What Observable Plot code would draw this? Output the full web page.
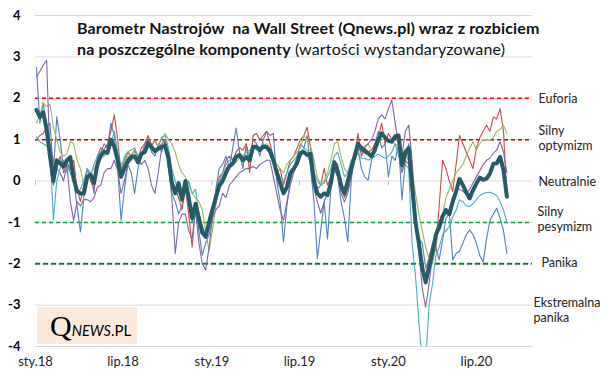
<!DOCTYPE html>
<html><head><meta charset="utf-8">
<script src="https://cdn.jsdelivr.net/npm/d3@7"></script>
<script src="https://cdn.jsdelivr.net/npm/@observablehq/plot@0.6"></script>
<style>
body{margin:0;background:#fff;}
#wrap{position:relative;width:605px;height:380px;font-family:Lato,sans-serif;color:#000;}
#title{position:absolute;left:77px;top:17px;font-size:16px;letter-spacing:0.15px;line-height:21px;color:#111;white-space:nowrap;}
#title b{font-weight:700;}
#logo{position:absolute;left:37px;top:307px;width:87px;height:37px;padding-left:13px;background:#FCE9DA;white-space:nowrap;line-height:37px;}
#logo .q{font-family:"Liberation Serif",serif;font-size:30px;}
#logo .n{font-size:14.5px;font-style:italic;}
#logo .p{font-size:15px;}
</style></head>
<body><div id="wrap"><div id="chart"></div>
<div id="title"><b>Barometr Nastrojów&nbsp; na Wall Street (Qnews.pl) wraz z rozbiciem</b><br><b>na poszczególne komponenty</b> (wartości wystandaryzowane)</div>
<div id="logo"><span class="q">Q</span><span class="n">NEWS</span><span class="p">.PL</span></div>
</div>
<script>
const barometr = [
1.72,1.55,1.66,1.25,0.6,0.0,0.5,0.43,0.35,0.5,
0.58,0.05,-0.25,-0.3,-0.3,0.1,0.15,-0.05,0.4,0.62,
0.7,0.68,1.0,0.83,0.5,0.1,0.3,0.5,0.58,0.6,
0.45,0.65,0.7,0.92,0.82,0.72,0.78,0.82,0.86,0.55,
-0.05,-0.3,-0.05,-0.45,0.0,-0.4,-0.9,-0.55,-0.9,-1.25,
-1.35,-1.0,-0.7,-0.4,-0.12,0.0,0.2,0.36,0.42,0.58,
0.63,0.5,0.58,0.5,0.83,0.83,0.75,0.83,0.82,0.72,
0.5,0.2,-0.05,-0.3,-0.15,0.19,0.3,0.43,0.68,0.7,
0.63,0.66,0.0,-0.3,-0.38,-0.3,-0.34,-0.05,0.45,0.25,
-0.1,-0.3,0.0,0.3,0.6,0.9,0.8,0.72,0.67,0.6,
0.75,1.0,1.15,1.05,0.97,0.95,1.08,1.1,0.38,0.7,
0.8,-0.1,-1.0,-1.5,-2.1,-2.45,-2.1,-1.74,-1.3,-1.12,
-0.85,-0.7,-0.8,-0.5,-0.25,0.05,-0.1,-0.28,-0.42,-0.22,
-0.06,0.08,0.03,0.06,0.18,0.42,0.43,0.58,0.27,-0.38];
const komponentCzerwony = [
1.0,1.1,1.15,1.3,0.9,0.5,0.3,0.6,0.2,0.4,
0.3,0.5,-0.2,-0.5,-0.1,0.3,0.0,-0.2,0.6,0.8,
0.75,0.9,1.2,1.6,1.0,0.2,0.5,0.7,0.6,0.75,
0.55,0.8,0.9,1.1,0.85,1.0,0.8,0.9,1.0,0.6,
0.1,-0.2,-0.4,-0.7,-0.2,-0.8,-1.6,-0.6,-0.9,-1.1,
-1.3,-0.9,-0.6,-0.3,0.1,0.2,0.5,0.6,0.5,0.7,
0.8,0.75,0.9,0.2,1.1,1.15,1.0,1.1,1.2,0.9,
0.6,0.2,0.3,-0.1,0.2,0.5,0.6,0.8,1.0,1.1,
1.3,0.8,0.1,-0.2,-0.1,0.3,-0.1,0.1,0.5,0.4,
-0.1,-0.4,-0.2,0.2,0.6,1.15,0.6,0.8,0.7,0.75,
0.9,1.05,1.4,0.9,1.15,1.0,1.1,0.9,0.2,0.5,
0.4,-0.4,-1.0,-1.7,-2.0,-2.3,-1.8,-1.6,-1.7,-0.6,
0.5,0.3,0.0,-0.25,0.4,1.1,0.9,0.7,0.5,0.3,
0.8,1.05,1.2,1.35,1.2,1.55,1.5,1.75,1.2,-0.4];
const komponentZielony = [
1.4,1.6,1.9,1.8,1.85,1.3,1.0,0.7,0.6,0.65,
0.95,0.9,0.5,0.3,-0.1,0.0,0.2,0.3,0.4,0.55,
0.6,0.7,0.85,0.9,0.6,0.4,0.5,0.6,0.65,0.7,
0.6,0.65,0.7,0.85,0.9,0.95,0.85,1.0,1.15,1.0,
0.9,0.7,0.4,0.2,0.1,-0.1,-0.3,-0.4,-0.5,-0.7,
-1.2,-1.7,-1.2,-0.6,0.0,0.2,0.3,0.35,0.4,0.45,
0.55,0.5,0.6,0.65,0.8,0.75,0.8,0.85,0.9,0.8,
0.6,0.4,0.3,0.2,0.4,0.5,0.6,0.7,0.8,1.1,
1.0,0.85,0.5,0.1,-0.1,0.0,0.2,0.5,0.9,0.95,
0.6,0.3,0.2,0.4,0.5,0.7,0.8,0.85,0.9,0.75,
0.8,0.9,1.0,1.05,1.0,0.95,0.9,0.85,0.7,0.6,
0.5,0.2,-0.3,-0.8,-1.2,-1.6,-1.9,-2.0,-1.6,-1.0,
-0.8,-0.4,-0.2,0.0,0.2,0.3,0.4,0.6,0.8,0.95,
0.75,0.9,1.0,1.0,0.98,1.05,1.2,1.25,1.35,1.15];
const komponentFioletowy = [
2.5,2.65,2.8,2.92,0.5,-0.1,0.3,0.2,0.0,0.4,
-0.5,-0.95,-0.5,-0.6,-0.45,-0.45,-0.5,-0.4,-0.15,-0.1,
0.2,0.3,0.3,0.5,0.25,-0.3,0.0,0.4,0.5,0.6,
0.5,0.4,0.5,0.3,-0.1,-0.3,0.2,0.8,0.9,0.5,
-0.4,-1.75,-1.0,-0.8,-0.8,-1.2,-1.4,-0.7,-1.5,-2.0,
-2.15,-1.6,-0.9,-0.7,-0.6,-0.3,-0.4,-0.1,0.0,0.1,
0.2,0.25,0.3,0.3,0.35,0.3,0.4,0.45,0.5,0.5,
0.1,-0.3,-0.7,-0.95,-0.5,-0.1,0.2,0.4,0.6,0.7,
0.65,0.4,-0.2,-0.5,-0.78,-0.5,-0.3,0.1,0.3,0.1,
-0.3,-0.5,-0.3,0.1,0.5,0.8,0.7,0.8,0.9,1.0,
1.2,1.5,1.6,1.5,1.75,1.95,1.4,0.9,0.6,1.2,
1.35,0.5,-0.8,-1.7,-2.6,-3.05,-2.5,-1.8,-1.2,-1.0,
-0.85,-0.8,-0.7,-0.4,-0.2,-0.2,-0.25,-0.3,-0.2,-0.05,
0.1,0.25,0.4,0.5,0.55,0.67,0.75,0.95,0.7,0.2];
const komponentNiebieski = [
2.75,1.4,1.9,1.3,1.4,0.2,1.55,1.0,0.3,0.5,
0.2,0.0,-0.6,-1.23,-0.4,0.3,0.2,-0.3,0.5,0.7,
0.9,0.8,1.4,1.1,0.3,-0.95,-0.2,0.4,0.2,-0.3,
0.3,0.6,0.9,1.0,0.7,0.6,0.9,0.7,1.0,0.3,
-0.3,-0.5,-0.8,-0.6,0.0,-0.5,-1.0,-0.6,-1.2,-1.8,
-1.5,-1.3,-0.9,-0.2,0.3,0.4,0.6,0.3,0.8,1.28,
0.7,0.3,0.9,0.5,1.0,0.9,0.6,1.0,1.2,1.1,
1.15,0.0,-0.5,-1.47,-0.6,0.0,0.3,0.6,0.9,0.8,
1.1,0.3,-0.5,-1.87,-1.2,-0.5,-1.4,-0.2,0.3,0.1,
-0.5,-0.9,-1.47,0.0,0.7,0.8,0.3,0.1,0.02,0.5,
0.9,1.2,0.8,0.9,0.1,0.6,0.5,0.9,-0.46,0.5,
0.9,-0.3,-1.0,-1.4,-1.5,-2.1,-1.9,-1.5,-1.6,-1.9,
-1.43,-0.9,-0.78,-1.9,-1.75,-1.7,-1.5,-1.3,-1.18,-1.3,
-1.5,-1.8,-1.96,-1.4,-0.95,-0.8,-0.66,-0.9,-1.2,-1.75];
const komponentTurkusowy = [
1.07,0.95,0.9,0.85,0.8,-0.94,0.0,0.3,0.5,0.2,
0.4,0.3,-0.3,-0.2,0.0,0.3,0.1,0.4,0.6,0.7,
0.75,0.7,0.9,1.2,0.7,0.3,0.6,0.7,0.75,0.8,
0.6,0.7,0.8,0.8,0.9,0.7,0.85,1.05,1.1,0.8,
0.3,0.0,-0.3,-0.4,-0.2,0.0,-0.3,-0.2,-0.8,-1.1,
-1.25,-0.9,-0.7,-0.3,0.0,0.2,0.4,0.5,0.55,0.6,
0.65,0.6,0.7,0.75,0.8,0.85,0.8,0.9,0.85,0.8,
0.6,0.3,0.1,0.0,0.2,0.4,0.5,0.6,0.7,0.8,
0.75,0.6,0.2,0.0,-0.1,-0.05,0.1,0.3,0.6,0.7,
0.4,0.1,0.2,0.5,0.6,0.65,0.55,0.55,0.5,0.55,
0.6,0.65,0.6,0.55,0.6,0.7,0.9,0.6,0.3,0.4,
0.3,-1.5,-2.3,-3.4,-4.4,-4.4,-3.0,-2.5,-1.8,-1.6,
-1.3,-1.2,-1.1,-0.87,-0.7,-0.46,-0.5,-0.6,-0.62,-0.55,
-0.45,-0.35,-0.3,-0.28,-0.27,-0.3,-0.35,-0.5,-0.7,-1.0];

const startDate = Date.UTC(2018, 0, 3);
const dates = barometr.map((_, i) => new Date(startDate + i * 7 * 864e5));

const xTickDates = [Date.UTC(2018,0,1), Date.UTC(2018,6,1), Date.UTC(2019,0,1), Date.UTC(2019,6,1), Date.UTC(2020,0,1), Date.UTC(2020,6,1)].map(d => new Date(d));
const xTickLabels = ["sty.18", "lip.18", "sty.19", "lip.19", "sty.20", "lip.20"];
const yTicks = [4, 3, 2, 1, 0, -1, -2, -3, -4];
const yTickLabels = ["4", "3", "2", "1", "0", "-1", "-2", "-3", "-4"];

const levels = [2, 1, -1, -2];
const levelColors = ["#FF0000", "#C00000", "#00A040", "#007A33"];
const zoneLabels = ["Euforia", "Silny\noptymizm", "Neutralnie", "Silny\npesymizm", "Panika", "Ekstremalna\npanika"];
const zoneValues = [2, 1.05, 0, -0.92, -1.96, -3.1];
const zoneOffsets = [6, 6, 6, 5, 9, 1];

const thinSeries = [
  {values: komponentNiebieski, color: "#4F81BD"},
  {values: komponentCzerwony, color: "#C0504D"},
  {values: komponentZielony, color: "#9BBB59"},
  {values: komponentFioletowy, color: "#8064A2"},
  {values: komponentTurkusowy, color: "#4BACC6"}
];

const xDomain = [new Date(Date.UTC(2018,0,1)), new Date(Date.UTC(2020,9,25))];
const endX = xDomain[1];
const xLabelMap = new Map(xTickDates.map((d, i) => [+d, xTickLabels[i]]));
const yLabelMap = new Map(yTicks.map((d, i) => [d, yTickLabels[i]]));

const rows = s => s.values.map((v, i) => ({date: dates[i], value: v}));

const chart = Plot.plot({
  width: 605, height: 380,
  marginLeft: 35, marginRight: 73, marginTop: 15, marginBottom: 34,
  style: {fontFamily: "Lato, sans-serif", background: "transparent", color: "#000", overflow: "visible"},
  x: {type: "utc", domain: xDomain},
  y: {domain: [-4, 4]},
  marks: [
    Plot.ruleY(yTicks, {stroke: "#D9D9D9", strokeWidth: 1}),
    Plot.ruleX(xTickDates, {y1: 0, y2: -0.12, stroke: "#BFBFBF"}),
    ...levels.map((l, i) => Plot.ruleY([l], {stroke: levelColors[i], strokeWidth: i === 3 ? 2 : 1.5, strokeDasharray: i === 3 ? "5,3" : "4,3"})),
    ...thinSeries.map(s => Plot.line(rows(s), {x: "date", y: "value", stroke: s.color, strokeWidth: 1.1, clip: true})),
    Plot.line(barometr.map((v, i) => ({date: dates[i], value: v})), {x: "date", y: "value", stroke: "#235B69", strokeWidth: 4, strokeLinejoin: "round"}),
    Plot.axisY({ticks: yTicks, tickSize: 0, tickPadding: 15, fontSize: 13, fontWeight: "bold", tickFormat: d => yLabelMap.get(d)}),
    Plot.axisX({ticks: xTickDates, tickSize: 0, tickPadding: 10, fontSize: 13, tickFormat: d => xLabelMap.get(+d), fill: "#222"}),
    ...zoneLabels.map((t, i) => Plot.text([{t, v: zoneValues[i]}], {
      x: () => endX, y: "v", text: "t", textAnchor: "start",
      dx: zoneOffsets[i], fontSize: 12.5, fill: "#222", lineHeight: 1.2
    }))
  ]
});
document.getElementById("chart").appendChild(chart);
</script></body></html>
